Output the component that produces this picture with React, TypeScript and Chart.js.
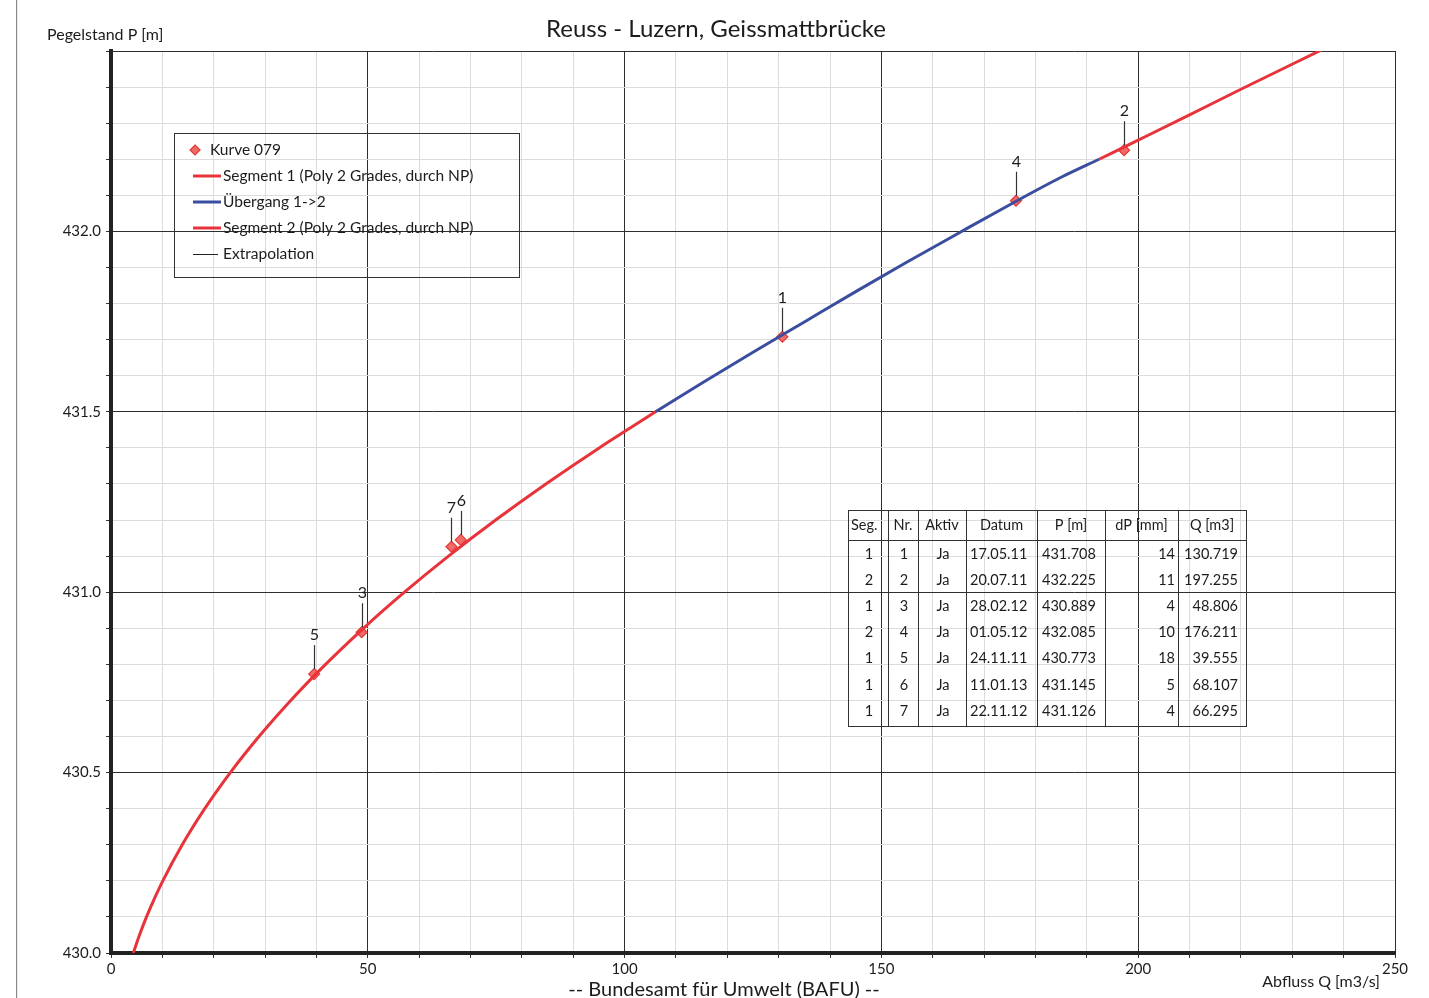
import React, { useEffect, useRef } from 'react';
import { Chart, registerables } from 'chart.js';

Chart.register(...registerables);

// ---------- texts ----------
const chartTitle = 'Reuss - Luzern, Geissmattbrücke';
const yAxisTitle = 'Pegelstand P [m]';
const xAxisTitle = 'Abfluss Q [m3/s]';
const footerText = '-- Bundesamt für Umwelt (BAFU) --';

// ---------- curve: Segment 1 ----------
const seg1Q = [4.33, 5.55, 6.91, 8.43, 10.09, 13.87, 18.25, 23.23, 28.81, 34.99, 41.77, 49.15, 57.13, 65.71, 74.89, 84.67, 95.05, 106.03];
const seg1P = [430.0, 430.05, 430.1, 430.15, 430.2, 430.3, 430.4, 430.5, 430.6, 430.7, 430.8, 430.9, 431.0, 431.1, 431.2, 431.3, 431.4, 431.5];

// ---------- curve: Übergang 1->2 ----------
const transQ = [106.03, 115, 125, 135, 145, 155, 165, 175, 185, 192.4];
const transP = [431.5, 431.579, 431.665, 431.749, 431.833, 431.915, 431.995, 432.074, 432.15, 432.2];

// ---------- curve: Segment 2 ----------
const seg2Q = [192.4, 200, 210, 220, 235.7];
const seg2P = [432.2, 432.253, 432.323, 432.394, 432.503];

// ---------- measurements ----------
const pointSeg = [1, 2, 1, 2, 1, 1, 1];
const pointNr = [1, 2, 3, 4, 5, 6, 7];
const pointAktiv = ['Ja', 'Ja', 'Ja', 'Ja', 'Ja', 'Ja', 'Ja'];
const pointDatum = ['17.05.11', '20.07.11', '28.02.12', '01.05.12', '24.11.11', '11.01.13', '22.11.12'];
const pointP = [431.708, 432.225, 430.889, 432.085, 430.773, 431.145, 431.126];
const pointDP = [14, 11, 4, 10, 18, 5, 4];
const pointQ = [130.719, 197.255, 48.806, 176.211, 39.555, 68.107, 66.295];

// ---------- legend / table ----------
const legendLabels = [
  'Kurve 079',
  'Segment 1 (Poly 2 Grades, durch NP)',
  'Übergang 1->2',
  'Segment 2 (Poly 2 Grades, durch NP)',
  'Extrapolation',
];
const tableHeaders = ['Seg.', 'Nr.', 'Aktiv', 'Datum', 'P [m]', 'dP [mm]', 'Q [m3]'];

// ---------- axes ----------
const xMin = 0;
const xMax = 250;
const xStep = 10;
const yMin = 430.0;
const yMax = 432.5;
const yStep = 0.1;

const RED = '#e8333a';
const BLUE = '#3b4d9e';
const PT_FILL = '#f26a66';
const PT_STROKE = '#e23a36';
const TXT = '#1c1c1c';
const FONT = 'Lato, "Open Sans", sans-serif';

const toXY = (qs: number[], ps: number[]) => qs.map((q, i) => ({ x: q, y: ps[i] }));

const isMultiple = (v: number, m: number) => Math.abs(v / m - Math.round(v / m)) < 1e-6;

function drawDiamond(ctx: CanvasRenderingContext2D, x: number, y: number, r: number) {
  ctx.beginPath();
  ctx.moveTo(x, y - r);
  ctx.lineTo(x + r, y);
  ctx.lineTo(x, y + r);
  ctx.lineTo(x - r, y);
  ctx.closePath();
  ctx.fillStyle = PT_FILL;
  ctx.fill();
  ctx.lineWidth = 1.2;
  ctx.strokeStyle = PT_STROKE;
  ctx.stroke();
}

const overlayPlugin = {
  id: 'overlay',
  afterDatasetsDraw(chart: any) {
    const ctx: CanvasRenderingContext2D = chart.ctx;
    const xs = chart.scales.x;
    const ys = chart.scales.y;
    ctx.save();
    ctx.strokeStyle = '#333';
    ctx.lineWidth = 1.2;
    ctx.fillStyle = TXT;
    ctx.font = `16px ${FONT}`;
    ctx.textAlign = 'center';
    ctx.textBaseline = 'middle';
    pointNr.forEach((nr, i) => {
      const px = Math.round(xs.getPixelForValue(pointQ[i])) + 0.5;
      const py = ys.getPixelForValue(pointP[i]);
      ctx.beginPath();
      ctx.moveTo(px, py - 5);
      ctx.lineTo(px, py - 29);
      ctx.stroke();
      ctx.fillText(String(nr), px, py - 39);
    });
    ctx.restore();
  },
  afterDraw(chart: any) {
    const ctx: CanvasRenderingContext2D = chart.ctx;
    ctx.save();
    // page left rule
    ctx.fillStyle = '#8a8a8a';
    ctx.fillRect(16, 0, 1.2, chart.height);

    // title
    ctx.fillStyle = TXT;
    ctx.textBaseline = 'middle';
    ctx.textAlign = 'center';
    ctx.font = `24px ${FONT}`;
    ctx.fillText(chartTitle, 716, 29);

    // axis titles
    ctx.font = `16px ${FONT}`;
    ctx.textAlign = 'left';
    ctx.fillText(yAxisTitle, 47, 35);
    ctx.textAlign = 'right';
    ctx.fillText(xAxisTitle, 1380, 982);

    // footer
    ctx.textAlign = 'center';
    ctx.font = `20px ${FONT}`;
    ctx.fillText(footerText, 724, 990);

    // legend
    ctx.strokeStyle = '#333';
    ctx.lineWidth = 1;
    ctx.strokeRect(174.5, 133.5, 345, 144);
    const rowY = [150, 176, 202, 228, 254];
    ctx.font = `15.5px ${FONT}`;
    ctx.textAlign = 'left';
    drawDiamond(ctx, 195, rowY[0], 5);
    ctx.fillStyle = TXT;
    ctx.fillText(legendLabels[0], 210, rowY[0]);
    const legendColors = [RED, BLUE, RED];
    for (let i = 1; i <= 4; i++) {
      ctx.beginPath();
      if (i < 4) {
        ctx.strokeStyle = legendColors[i - 1];
        ctx.lineWidth = 3;
        ctx.moveTo(193, rowY[i]);
        ctx.lineTo(221, rowY[i]);
      } else {
        ctx.strokeStyle = '#222';
        ctx.lineWidth = 1;
        ctx.moveTo(193, rowY[i] + 0.5);
        ctx.lineTo(218, rowY[i] + 0.5);
      }
      ctx.stroke();
      ctx.fillStyle = TXT;
      ctx.fillText(legendLabels[i], 223, rowY[i]);
    }

    // table
    const colX = [848, 888, 918, 966, 1037, 1105, 1178, 1246];
    const top = 510;
    const headBottom = 540;
    const bottom = 726;
    ctx.strokeStyle = '#333';
    ctx.lineWidth = 1;
    ctx.strokeRect(colX[0] + 0.5, top + 0.5, colX[7] - colX[0], bottom - top);
    ctx.beginPath();
    ctx.moveTo(colX[0], headBottom + 0.5);
    ctx.lineTo(colX[7], headBottom + 0.5);
    for (let c = 1; c < 7; c++) {
      ctx.moveTo(colX[c] + 0.5, top);
      ctx.lineTo(colX[c] + 0.5, bottom);
    }
    ctx.stroke();
    ctx.fillStyle = TXT;
    ctx.font = `14.5px ${FONT}`;
    tableHeaders.forEach((h, c) => {
      if (c === 0) {
        ctx.textAlign = 'left';
        ctx.fillText(h, colX[0] + 3, 525);
      } else {
        ctx.textAlign = 'center';
        ctx.fillText(h, (colX[c] + colX[c + 1]) / 2, 525);
      }
    });
    const rowsY = [554, 580, 606, 632, 658, 685, 711];
    pointNr.forEach((nr, r) => {
      const y = rowsY[r];
      const cells = [
        String(pointSeg[r]),
        String(nr),
        pointAktiv[r],
        pointDatum[r],
        pointP[r].toFixed(3),
        String(pointDP[r]),
        pointQ[r].toFixed(3),
      ];
      cells.forEach((t, c) => {
        if (c === 5 || c === 6) {
          ctx.textAlign = 'right';
          ctx.fillText(t, colX[c + 1] - (c === 6 ? 8 : 3), y);
        } else if (c === 3 || c === 4) {
          ctx.textAlign = 'left';
          ctx.fillText(t, colX[c] + (c === 3 ? 4 : 5), y);
        } else {
          ctx.textAlign = 'center';
          ctx.fillText(t, (colX[c] + colX[c + 1]) / 2 + 1, y);
        }
      });
    });
    ctx.restore();
  },
};

export default function App() {
  const canvasRef = useRef<HTMLCanvasElement | null>(null);

  useEffect(() => {
    if (!canvasRef.current) return;
    const lineDs = (label: string, data: { x: number; y: number }[], color: string) => ({
      label,
      data,
      showLine: true,
      borderColor: color,
      borderWidth: 3,
      pointRadius: 0,
      cubicInterpolationMode: 'monotone',
    });
    const chart = new Chart(canvasRef.current, {
      type: 'scatter',
      data: {
        datasets: [
          lineDs(legendLabels[1], toXY(seg1Q, seg1P), RED),
          lineDs(legendLabels[2], toXY(transQ, transP), BLUE),
          lineDs(legendLabels[3], toXY(seg2Q, seg2P), RED),
          {
            label: legendLabels[0],
            data: toXY(pointQ, pointP),
            showLine: false,
            pointStyle: 'rectRot',
            pointRadius: 5.5,
            backgroundColor: PT_FILL,
            borderColor: PT_STROKE,
            borderWidth: 1.2,
          },
        ],
      } as any,
      options: {
        responsive: false,
        animation: false,
        layout: { padding: { left: 0, top: 51, right: 34, bottom: 0 } },
        plugins: {
          legend: { display: false },
          title: { display: false },
          tooltip: { enabled: false },
        },
        scales: {
          x: {
            type: 'linear',
            min: xMin,
            max: xMax,
            afterFit: (s: any) => {
              s.height = 45;
            },
            ticks: {
              stepSize: xStep,
              padding: 2,
              color: TXT,
              font: { family: FONT, size: 15 },
              maxRotation: 0,
              autoSkip: false,
              callback: (v: any) => (isMultiple(Number(v), 50) ? String(v) : ''),
            },
            grid: {
              color: (c: any) => (isMultiple(c.tick.value, 50) ? '#2e2e2e' : '#dcdcdc'),
              tickColor: '#333',
              tickLength: 5,
              lineWidth: 1,
            },
            border: { display: true, color: '#222', width: 4 },
          },
          y: {
            type: 'linear',
            min: yMin,
            max: yMax,
            afterFit: (s: any) => {
              s.width = 111;
            },
            ticks: {
              stepSize: yStep,
              padding: 5,
              color: TXT,
              font: { family: FONT, size: 15 },
              autoSkip: false,
              callback: (v: any) => {
                const n = Number(v);
                if (isMultiple(n, 0.5) && Math.abs(n - yMax) > 1e-6) return n.toFixed(1);
                return '';
              },
            },
            grid: {
              color: (c: any) => (isMultiple(c.tick.value, 0.5) ? '#2e2e2e' : '#dcdcdc'),
              tickColor: '#333',
              tickLength: 5,
              lineWidth: 1,
            },
            border: { display: true, color: '#222', width: 4 },
          },
        },
      } as any,
      plugins: [overlayPlugin],
    });
    return () => chart.destroy();
  }, []);

  return (
    <div
      style={{
        position: 'absolute',
        left: 0,
        top: 0,
        width: 1429,
        height: 998,
        background: '#fff',
        overflow: 'hidden',
      }}
    >
      <canvas ref={canvasRef} width={1429} height={998} style={{ width: 1429, height: 998, display: 'block' }} />
    </div>
  );
}
